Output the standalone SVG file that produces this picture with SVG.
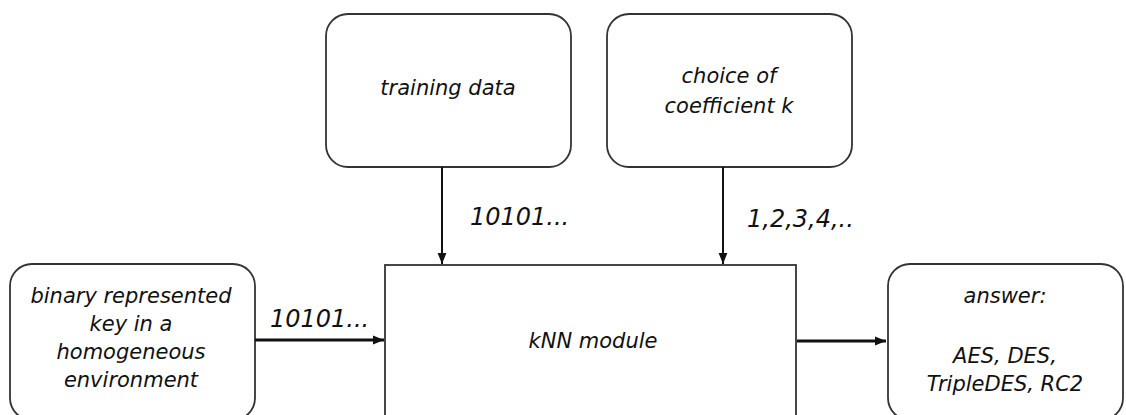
<svg xmlns="http://www.w3.org/2000/svg" width="1126" height="415" viewBox="0 0 1126 415">
  <style>
    .box { fill: #ffffff; stroke: #333333; stroke-width: 1.8; }
    .txt { font-family: "DejaVu Sans", Verdana, sans-serif; font-style: italic; font-size: 21px; fill: #111111; text-anchor: middle; }
    .lbl { font-family: "DejaVu Sans", Verdana, sans-serif; font-style: italic; font-size: 24px; fill: #111111; }
    .wire { stroke: #111111; fill: none; }
  </style>
  <defs>
    <marker id="head" viewBox="0 0 10 10" refX="10" refY="5" markerWidth="11" markerHeight="11" markerUnits="userSpaceOnUse" orient="auto">
      <path d="M0,1 L10,5 L0,9 Z" fill="#111111"/>
    </marker>
  </defs>
  <rect width="1126" height="415" fill="#ffffff"/>

  <g id="training-data">
    <rect class="box" x="326" y="14" width="245" height="153" rx="22" ry="22"/>
    <text class="txt" x="448" y="95">training data</text>
  </g>

  <g id="choice-k">
    <rect class="box" x="607" y="14" width="245" height="153" rx="22" ry="22"/>
    <text class="txt" x="729" y="83">choice of</text>
    <text class="txt" x="729" y="113">coefficient k</text>
  </g>

  <g id="input-key">
    <rect class="box" x="10" y="264" width="245" height="156" rx="22" ry="22"/>
    <text class="txt" x="131" y="303">binary represented</text>
    <text class="txt" x="131" y="331">key in a</text>
    <text class="txt" x="131" y="359">homogeneous</text>
    <text class="txt" x="131" y="387">environment</text>
  </g>

  <g id="knn-module">
    <rect class="box" x="385" y="265" width="411" height="151.2"/>
    <text class="txt" x="593" y="348">kNN module</text>
  </g>

  <g id="answer">
    <rect class="box" x="888" y="264" width="235" height="156" rx="22" ry="22"/>
    <text class="txt" x="1005" y="303">answer:</text>
    <text class="txt" x="1005" y="363">AES, DES,</text>
    <text class="txt" x="1005" y="391">TripleDES, RC2</text>
  </g>

  <g id="connectors">
    <line class="wire" x1="442" y1="167" x2="442" y2="264" stroke-width="2" marker-end="url(#head)"/>
    <line class="wire" x1="723" y1="167" x2="723" y2="264" stroke-width="2" marker-end="url(#head)"/>
    <line class="wire" x1="255" y1="340" x2="384" y2="340" stroke-width="3" marker-end="url(#head)"/>
    <line class="wire" x1="797" y1="341" x2="886" y2="341" stroke-width="3" marker-end="url(#head)"/>
    <text class="lbl" x="470" y="225">10101...</text>
    <text class="lbl" x="747" y="227">1,2,3,4,..</text>
    <text class="lbl" x="270" y="327">10101...</text>
  </g>
</svg>
